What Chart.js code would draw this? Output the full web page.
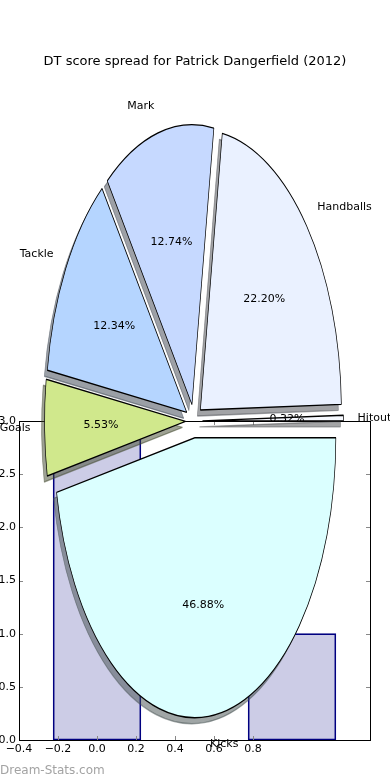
<!DOCTYPE html>
<html>
<head>
<meta charset="utf-8">
<script src="https://cdn.jsdelivr.net/npm/chart.js@4.4.1/dist/chart.umd.min.js"></script>
<style>
  html, body { margin: 0; padding: 0; background: #fff; }
  #wrap { position: relative; width: 390px; height: 780px; overflow: hidden; font-family: "DejaVu Sans", sans-serif; }
  canvas { position: absolute; left: 0; top: 0; }
  #bars { z-index: 1; }
  #pie { z-index: 2; }
  #title { position: absolute; left: 0; top: 53px; width: 390px; text-align: center; font-size: 13px; line-height: 16px; color: #000; z-index: 3; }
  #mark { position: absolute; left: 0; top: 763px; font-size: 12px; line-height: 14px; color: #a3a3a3; z-index: 3; }
</style>
</head>
<body>
<div id="wrap">
  <canvas id="bars" width="390" height="780"></canvas>
  <canvas id="pie" width="390" height="780"></canvas>
  <div id="title">DT score spread for Patrick Dangerfield (2012)</div>
  <div id="mark">Dream-Stats.com</div>
</div>
<script>
// Pie data (matplotlib order, counter-clockwise from 3 o'clock)
const pieLabels = ['Hitout', 'Handballs', 'Mark', 'Tackle', 'Goals', 'Kicks'];
const pieShares = [0.32, 22.20, 12.74, 12.34, 5.53, 46.88];

// Bar data behind the pie
const barX = [0, 1];
const barHeights = [3, 1];
const xTickLabels = ['\u22120.4', '\u22120.2', '0.0', '0.2', '0.4', '0.6', '0.8'];
const yTickLabels = ['0.0', '0.5', '1.0', '1.5', '2.0', '2.5', '3.0'];

// Styles
const pieColors = ['#f6f9ff', '#eaf1ff', '#c6d9ff', '#b5d5ff', '#d0e88c', '#dbffff'];
const RX = 141, RY = 280;          // pie is stretched into an ellipse
const SQUASH = RY / RX;
const EXPLODE = 0.06;              // fraction of radius
const FONT = '11px "DejaVu Sans", sans-serif';

// Inward ticks + full box around the bar axes
const axesBox = {
    id: 'axesBox',
    afterDatasetsDraw(chart) {
        const ctx = chart.ctx;
        const a = chart.chartArea;
        const xs = chart.scales.x, ys = chart.scales.y;
        ctx.save();
        ctx.strokeStyle = '#888';
        ctx.lineWidth = 1;
        ctx.beginPath();
        xs.ticks.forEach(t => {
            const px = Math.round(xs.getPixelForValue(t.value)) + 0.5;
            ctx.moveTo(px, a.bottom); ctx.lineTo(px, a.bottom - 4);
            ctx.moveTo(px, a.top); ctx.lineTo(px, a.top + 4);
        });
        ys.ticks.forEach(t => {
            const py = Math.round(ys.getPixelForValue(t.value)) + 0.5;
            ctx.moveTo(a.left, py); ctx.lineTo(a.left + 4, py);
            ctx.moveTo(a.right, py); ctx.lineTo(a.right - 4, py);
        });
        ctx.stroke();
        ctx.strokeStyle = '#000';
        ctx.strokeRect(a.left + 0.5, a.top + 0.5, a.right - a.left, a.bottom - a.top);
        ctx.restore();
    }
};

new Chart(document.getElementById('bars'), {
    type: 'bar',
    data: {
        datasets: [{
            data: barX.map((x, i) => ({ x: x, y: barHeights[i] })),
            backgroundColor: 'rgba(0, 0, 128, 0.2)',
            borderColor: '#000080',
            borderWidth: 1,
            borderSkipped: false,
            barThickness: 'flex',
            categoryPercentage: 1,
            barPercentage: 0.45
        }]
    },
    options: {
        responsive: false,
        animation: false,
        layout: { padding: { left: 0, top: 421, right: 20, bottom: 20 } },
        plugins: { legend: { display: false }, tooltip: { enabled: false } },
        scales: {
            x: {
                type: 'linear',
                offset: false,
                min: -0.4,
                max: 1.4,
                afterBuildTicks: s => { s.ticks = s.ticks.slice(0, xTickLabels.length); },
                afterFit: s => { s.height = 20; },
                grid: { display: false, drawTicks: false, offset: false },
                border: { display: false },
                ticks: {
                    stepSize: 0.2,
                    padding: 3,
                    maxRotation: 0,
                    autoSkip: false,
                    color: '#000',
                    font: { family: 'DejaVu Sans', size: 11 },
                    callback: (v, i) => xTickLabels[i]
                }
            },
            y: {
                min: 0,
                max: 3,
                afterFit: s => { s.width = 19; },
                grid: { display: false, drawTicks: false },
                border: { display: false },
                ticks: {
                    stepSize: 0.5,
                    padding: 3,
                    color: '#000',
                    font: { family: 'DejaVu Sans', size: 11 },
                    callback: (v, i) => yTickLabels[i]
                }
            }
        }
    },
    plugins: [axesBox]
});

// Draws the pie as exploded, elliptical wedges with drop shadows
function pieTransform(ctx, arc) {
    const mid = (arc.startAngle + arc.endAngle) / 2;
    const d = EXPLODE * arc.outerRadius;
    ctx.translate(arc.x, arc.y);
    ctx.scale(1, -SQUASH);
    ctx.translate(-arc.x + Math.cos(mid) * d, -arc.y + Math.sin(mid) * d);
}

function shadowOf(hex) {
    const n = parseInt(hex.slice(1), 16);
    const r = (n >> 16) & 255, g = (n >> 8) & 255, b = n & 255;
    return `rgba(${Math.round(r * 0.3)}, ${Math.round(g * 0.3)}, ${Math.round(b * 0.3)}, 0.5)`;
}

const explodedPie = {
    id: 'explodedPie',
    beforeDatasetsDraw(chart) {
        const ctx = chart.ctx;
        const arcs = chart.getDatasetMeta(0).data;
        const FAR = 3000;
        // shadows first, all below the wedges
        arcs.forEach((arc, i) => {
            ctx.save();
            ctx.shadowColor = shadowOf(pieColors[i]);
            ctx.shadowBlur = 0;
            ctx.shadowOffsetX = FAR - 3;
            ctx.shadowOffsetY = 6;
            ctx.translate(-FAR, 0);
            pieTransform(ctx, arc);
            arc.draw(ctx);
            ctx.restore();
        });
        arcs.forEach(arc => {
            ctx.save();
            pieTransform(ctx, arc);
            arc.draw(ctx);
            ctx.restore();
        });
        return false;
    },
    afterDraw(chart) {
        const ctx = chart.ctx;
        const arcs = chart.getDatasetMeta(0).data;
        ctx.save();
        ctx.font = FONT;
        ctx.fillStyle = '#000';
        ctx.textBaseline = 'middle';
        arcs.forEach((arc, i) => {
            const mid = (arc.startAngle + arc.endAngle) / 2;
            const c = Math.cos(mid), s = Math.sin(mid);
            const R = arc.outerRadius;
            const lr = (EXPLODE + 1.1) * R, pr = (EXPLODE + 0.6) * R;
            ctx.textAlign = c > 0 ? 'left' : 'right';
            ctx.fillText(pieLabels[i], arc.x + lr * c, arc.y - SQUASH * lr * s);
            ctx.textAlign = 'center';
            ctx.fillText(pieShares[i].toFixed(2) + '%', arc.x + pr * c, arc.y - SQUASH * pr * s);
        });
        ctx.restore();
    }
};

new Chart(document.getElementById('pie'), {
    type: 'pie',
    data: {
        labels: pieLabels,
        datasets: [{
            data: pieShares,
            backgroundColor: pieColors,
            borderColor: '#000',
            borderWidth: 0.7,
            radius: RX,
            rotation: 90
        }]
    },
    options: {
        responsive: false,
        animation: false,
        layout: { padding: { left: 0, right: 2, top: 62, bottom: 0 } },
        plugins: { legend: { display: false }, tooltip: { enabled: false } }
    },
    plugins: [explodedPie]
});
</script>
</body>
</html>
